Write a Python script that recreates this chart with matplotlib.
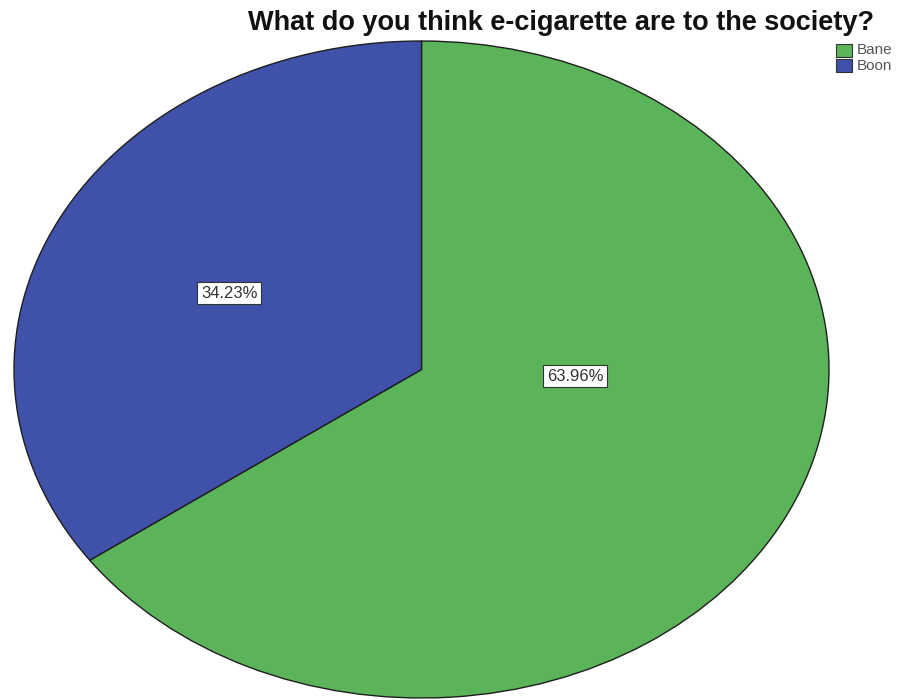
# Pie chart: opinions on e-cigarettes (Bane / Boon), SPSS-style output

import matplotlib
matplotlib.use("Agg")
import matplotlib.pyplot as plt
from matplotlib.patches import Rectangle

categories = ["Bane", "Boon"]
percents = [63.96, 34.23]
colors = ["#5cb45a", "#3f51a8"]
title = "What do you think e-cigarette are to the society?"

W, H = 906, 700
plt.rcParams["font.family"] = ["Liberation Sans", "DejaVu Sans"]

fig = plt.figure(figsize=(W / 100, H / 100), dpi=100)

# pie axes, stretched so the pie becomes an ellipse (pixel box of the pie)
left, right, top, bottom = 14, 829, 41, 698
ax = fig.add_axes([left / W, 1 - bottom / H, (right - left) / W, (bottom - top) / H])
wedges, _ = ax.pie(percents, colors=colors, startangle=90, counterclock=False,
                   wedgeprops=dict(edgecolor="#1e1e1e", linewidth=1.0))
ax.set_aspect("auto")
ax.set_xlim(-1, 1)
ax.set_ylim(-1, 1)

# percentage boxes, placed in pie data coordinates
label_pos = [(0.377, -0.02), (-0.472, 0.232)]
for (x, y), p in zip(label_pos, percents):
    ax.text(x, y, f"{p:.2f}%", ha="center", va="center", fontsize=12, color="#333333",
            bbox=dict(boxstyle="square,pad=0.22", fc="white", ec="#333333", lw=0.8))

# overlay in pixel coordinates for the title and legend
ov = fig.add_axes([0, 0, 1, 1], zorder=5)
ov.set_xlim(0, W)
ov.set_ylim(H, 0)
ov.axis("off")
ov.patch.set_alpha(0)

ov.text(561, 23, title, ha="center", va="center", fontsize=19.5, fontweight="bold", color="#111111")

for i, (cat, col) in enumerate(zip(categories, colors)):
    y0 = 44 + i * 15
    ov.add_patch(Rectangle((836, y0), 16, 13, fc=col, ec="#333333", lw=0.8))
    ov.text(857, y0 + 6.5, cat, ha="left", va="center", fontsize=11, color="#555555")

fig.savefig("out.png", dpi=100, facecolor="white")
